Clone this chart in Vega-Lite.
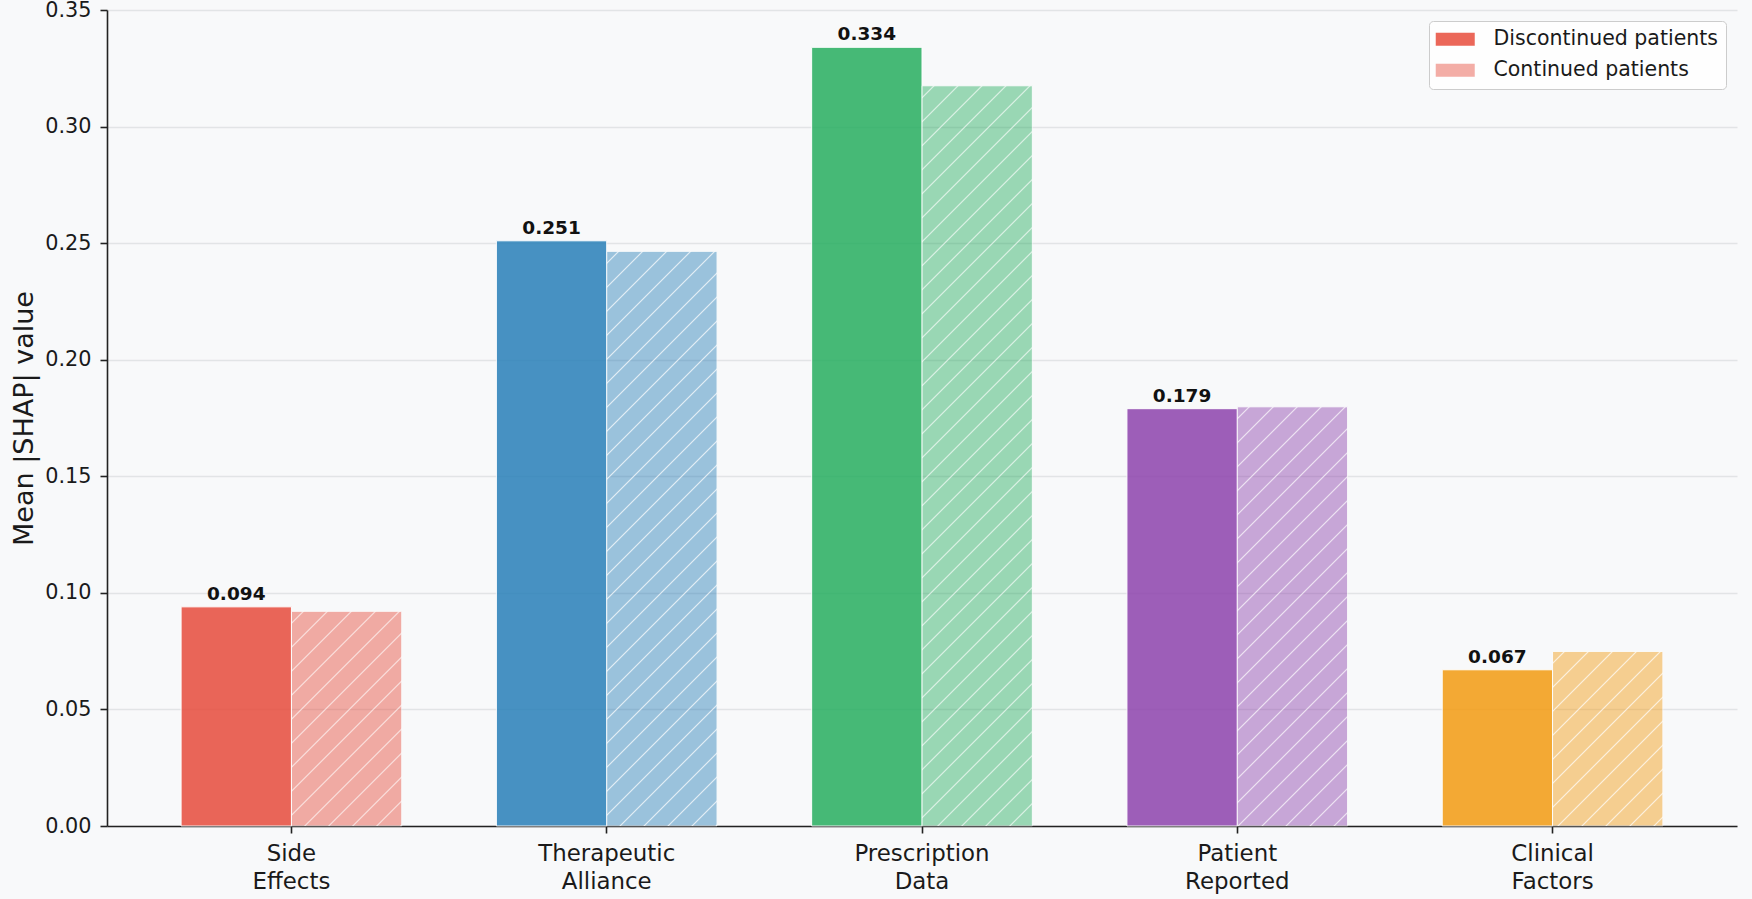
{
  "$schema": "https://vega.github.io/schema/vega-lite/v6.json",
  "width": 1630,
  "height": 816,
  "autosize": {"type": "none"},
  "padding": {"left": 107, "top": 10, "right": 15, "bottom": 73},
  "background": "#f8f9fa",
  "params": [
    {
      "name": "hatchStops",
      "value": [
        {"offset": 0.01215, "color": "rgba(255,255,255,0)"}, {"offset": 0.01389, "color": "rgba(255,255,255,0.7)"}, {"offset": 0.01563, "color": "rgba(255,255,255,0)"},
        {"offset": 0.03993, "color": "rgba(255,255,255,0)"}, {"offset": 0.04167, "color": "rgba(255,255,255,0.7)"}, {"offset": 0.04341, "color": "rgba(255,255,255,0)"},
        {"offset": 0.0677, "color": "rgba(255,255,255,0)"}, {"offset": 0.06944, "color": "rgba(255,255,255,0.7)"}, {"offset": 0.07118, "color": "rgba(255,255,255,0)"},
        {"offset": 0.09548, "color": "rgba(255,255,255,0)"}, {"offset": 0.09722, "color": "rgba(255,255,255,0.7)"}, {"offset": 0.09896, "color": "rgba(255,255,255,0)"},
        {"offset": 0.12326, "color": "rgba(255,255,255,0)"}, {"offset": 0.125, "color": "rgba(255,255,255,0.7)"}, {"offset": 0.12674, "color": "rgba(255,255,255,0)"},
        {"offset": 0.15104, "color": "rgba(255,255,255,0)"}, {"offset": 0.15278, "color": "rgba(255,255,255,0.7)"}, {"offset": 0.15452, "color": "rgba(255,255,255,0)"},
        {"offset": 0.17882, "color": "rgba(255,255,255,0)"}, {"offset": 0.18056, "color": "rgba(255,255,255,0.7)"}, {"offset": 0.1823, "color": "rgba(255,255,255,0)"},
        {"offset": 0.20659, "color": "rgba(255,255,255,0)"}, {"offset": 0.20833, "color": "rgba(255,255,255,0.7)"}, {"offset": 0.21007, "color": "rgba(255,255,255,0)"},
        {"offset": 0.23437, "color": "rgba(255,255,255,0)"}, {"offset": 0.23611, "color": "rgba(255,255,255,0.7)"}, {"offset": 0.23785, "color": "rgba(255,255,255,0)"},
        {"offset": 0.26215, "color": "rgba(255,255,255,0)"}, {"offset": 0.26389, "color": "rgba(255,255,255,0.7)"}, {"offset": 0.26563, "color": "rgba(255,255,255,0)"},
        {"offset": 0.28993, "color": "rgba(255,255,255,0)"}, {"offset": 0.29167, "color": "rgba(255,255,255,0.7)"}, {"offset": 0.29341, "color": "rgba(255,255,255,0)"},
        {"offset": 0.3177, "color": "rgba(255,255,255,0)"}, {"offset": 0.31944, "color": "rgba(255,255,255,0.7)"}, {"offset": 0.32118, "color": "rgba(255,255,255,0)"},
        {"offset": 0.34548, "color": "rgba(255,255,255,0)"}, {"offset": 0.34722, "color": "rgba(255,255,255,0.7)"}, {"offset": 0.34896, "color": "rgba(255,255,255,0)"},
        {"offset": 0.37326, "color": "rgba(255,255,255,0)"}, {"offset": 0.375, "color": "rgba(255,255,255,0.7)"}, {"offset": 0.37674, "color": "rgba(255,255,255,0)"},
        {"offset": 0.40104, "color": "rgba(255,255,255,0)"}, {"offset": 0.40278, "color": "rgba(255,255,255,0.7)"}, {"offset": 0.40452, "color": "rgba(255,255,255,0)"},
        {"offset": 0.42882, "color": "rgba(255,255,255,0)"}, {"offset": 0.43056, "color": "rgba(255,255,255,0.7)"}, {"offset": 0.4323, "color": "rgba(255,255,255,0)"},
        {"offset": 0.45659, "color": "rgba(255,255,255,0)"}, {"offset": 0.45833, "color": "rgba(255,255,255,0.7)"}, {"offset": 0.46007, "color": "rgba(255,255,255,0)"},
        {"offset": 0.48437, "color": "rgba(255,255,255,0)"}, {"offset": 0.48611, "color": "rgba(255,255,255,0.7)"}, {"offset": 0.48785, "color": "rgba(255,255,255,0)"},
        {"offset": 0.51215, "color": "rgba(255,255,255,0)"}, {"offset": 0.51389, "color": "rgba(255,255,255,0.7)"}, {"offset": 0.51563, "color": "rgba(255,255,255,0)"},
        {"offset": 0.53993, "color": "rgba(255,255,255,0)"}, {"offset": 0.54167, "color": "rgba(255,255,255,0.7)"}, {"offset": 0.54341, "color": "rgba(255,255,255,0)"},
        {"offset": 0.5677, "color": "rgba(255,255,255,0)"}, {"offset": 0.56944, "color": "rgba(255,255,255,0.7)"}, {"offset": 0.57118, "color": "rgba(255,255,255,0)"},
        {"offset": 0.59548, "color": "rgba(255,255,255,0)"}, {"offset": 0.59722, "color": "rgba(255,255,255,0.7)"}, {"offset": 0.59896, "color": "rgba(255,255,255,0)"},
        {"offset": 0.62326, "color": "rgba(255,255,255,0)"}, {"offset": 0.625, "color": "rgba(255,255,255,0.7)"}, {"offset": 0.62674, "color": "rgba(255,255,255,0)"},
        {"offset": 0.65104, "color": "rgba(255,255,255,0)"}, {"offset": 0.65278, "color": "rgba(255,255,255,0.7)"}, {"offset": 0.65452, "color": "rgba(255,255,255,0)"},
        {"offset": 0.67882, "color": "rgba(255,255,255,0)"}, {"offset": 0.68056, "color": "rgba(255,255,255,0.7)"}, {"offset": 0.6823, "color": "rgba(255,255,255,0)"},
        {"offset": 0.70659, "color": "rgba(255,255,255,0)"}, {"offset": 0.70833, "color": "rgba(255,255,255,0.7)"}, {"offset": 0.71007, "color": "rgba(255,255,255,0)"},
        {"offset": 0.73437, "color": "rgba(255,255,255,0)"}, {"offset": 0.73611, "color": "rgba(255,255,255,0.7)"}, {"offset": 0.73785, "color": "rgba(255,255,255,0)"},
        {"offset": 0.76215, "color": "rgba(255,255,255,0)"}, {"offset": 0.76389, "color": "rgba(255,255,255,0.7)"}, {"offset": 0.76563, "color": "rgba(255,255,255,0)"},
        {"offset": 0.78993, "color": "rgba(255,255,255,0)"}, {"offset": 0.79167, "color": "rgba(255,255,255,0.7)"}, {"offset": 0.79341, "color": "rgba(255,255,255,0)"},
        {"offset": 0.8177, "color": "rgba(255,255,255,0)"}, {"offset": 0.81944, "color": "rgba(255,255,255,0.7)"}, {"offset": 0.82118, "color": "rgba(255,255,255,0)"},
        {"offset": 0.84548, "color": "rgba(255,255,255,0)"}, {"offset": 0.84722, "color": "rgba(255,255,255,0.7)"}, {"offset": 0.84896, "color": "rgba(255,255,255,0)"},
        {"offset": 0.87326, "color": "rgba(255,255,255,0)"}, {"offset": 0.875, "color": "rgba(255,255,255,0.7)"}, {"offset": 0.87674, "color": "rgba(255,255,255,0)"},
        {"offset": 0.90104, "color": "rgba(255,255,255,0)"}, {"offset": 0.90278, "color": "rgba(255,255,255,0.7)"}, {"offset": 0.90452, "color": "rgba(255,255,255,0)"},
        {"offset": 0.92882, "color": "rgba(255,255,255,0)"}, {"offset": 0.93056, "color": "rgba(255,255,255,0.7)"}, {"offset": 0.9323, "color": "rgba(255,255,255,0)"},
        {"offset": 0.95659, "color": "rgba(255,255,255,0)"}, {"offset": 0.95833, "color": "rgba(255,255,255,0.7)"}, {"offset": 0.96007, "color": "rgba(255,255,255,0)"},
        {"offset": 0.98437, "color": "rgba(255,255,255,0)"}, {"offset": 0.98611, "color": "rgba(255,255,255,0.7)"}, {"offset": 0.98785, "color": "rgba(255,255,255,0)"}
      ]
    }
  ],
  "data": {
    "values": [
      {"feature": "Side Effects", "group": "Discontinued patients", "shap": 0.094},
      {"feature": "Side Effects", "group": "Continued patients", "shap": 0.0921},
      {"feature": "Therapeutic Alliance", "group": "Discontinued patients", "shap": 0.251},
      {"feature": "Therapeutic Alliance", "group": "Continued patients", "shap": 0.2465},
      {"feature": "Prescription Data", "group": "Discontinued patients", "shap": 0.334},
      {"feature": "Prescription Data", "group": "Continued patients", "shap": 0.3175},
      {"feature": "Patient Reported", "group": "Discontinued patients", "shap": 0.179},
      {"feature": "Patient Reported", "group": "Continued patients", "shap": 0.1798},
      {"feature": "Clinical Factors", "group": "Discontinued patients", "shap": 0.067},
      {"feature": "Clinical Factors", "group": "Continued patients", "shap": 0.0749}
    ]
  },
  "encoding": {
    "x": {
      "field": "feature",
      "type": "nominal",
      "sort": ["Side Effects", "Therapeutic Alliance", "Prescription Data", "Patient Reported", "Clinical Factors"],
      "scale": {"paddingInner": 0.3, "paddingOuter": 0.235},
      "axis": {
        "title": null,
        "labelAngle": 0,
        "labelExpr": "split(datum.label, ' ')",
        "labelFontSize": 22.9,
        "labelLineHeight": 28.3,
        "labelBaseline": "top",
        "labelPadding": 9.5,
        "grid": false
      }
    },
    "xOffset": {
      "field": "group",
      "type": "nominal",
      "scale": {"domain": ["Discontinued patients", "Continued patients"], "paddingInner": 0, "paddingOuter": 0}
    },
    "y": {
      "field": "shap",
      "type": "quantitative",
      "scale": {"domain": [0, 0.35], "nice": false},
      "axis": {
        "title": "Mean |SHAP| value",
        "values": [0, 0.05, 0.1, 0.15, 0.2, 0.25, 0.3, 0.35],
        "format": ".2f",
        "labelFontSize": 20.8,
        "labelPadding": 9,
        "grid": true,
        "titleFontSize": 27,
        "titleFontWeight": "normal",
        "titleX": -83,
        "titleY": 408,
        "titleAngle": 270,
        "titleAlign": "center",
        "titleBaseline": "middle"
      }
    }
  },
  "layer": [
    {
      "mark": {"type": "bar", "stroke": "#ffffff", "strokeWidth": 1},
      "encoding": {
        "color": {
          "field": "feature",
          "type": "nominal",
          "scale": {
            "domain": ["Side Effects", "Therapeutic Alliance", "Prescription Data", "Patient Reported", "Clinical Factors"],
            "range": ["#e74c3c", "#2980b9", "#27ae60", "#8e44ad", "#f39c12"]
          },
          "legend": null
        },
        "opacity": {
          "field": "group",
          "type": "nominal",
          "scale": {"domain": ["Discontinued patients", "Continued patients"], "range": [0.85, 0.45]},
          "legend": {
            "title": null,
            "orient": "none",
            "legendX": 1322,
            "legendY": 11,
            "symbolType": "M-1.77,-1H4.23V1H-1.77Z",
            "symbolSize": 169,
            "symbolFillColor": "#e74c3c",
            "symbolStrokeWidth": 0,
            "labelFontSize": 20.5,
            "labelLimit": 0,
            "labelOffset": 36,
            "rowPadding": 10,
            "padding": 8,
            "fillColor": "#fefefe",
            "strokeColor": "#cccccc",
            "cornerRadius": 4,
            "encode": {
              "symbols": {
                "update": {
                  "fill": {
                    "signal": "datum.value === 'Continued patients' ? {gradient: 'linear', x1: 0, y1: 0, x2: 1.2, y2: 0.4, stops: [{offset: 0, color: '#e74c3c'}, {offset: 0.2, color: '#e74c3c'}, {offset: 0.23, color: '#ffffff'}, {offset: 0.26, color: '#e74c3c'}, {offset: 0.66, color: '#e74c3c'}, {offset: 0.69, color: '#ffffff'}, {offset: 0.72, color: '#e74c3c'}, {offset: 1, color: '#e74c3c'}]} : '#e74c3c'"
                  }
                }
              }
            }
          }
        }
      }
    },
    {
      "transform": [{"filter": "datum.group === 'Continued patients'"}],
      "mark": {"type": "bar", "strokeWidth": 0},
      "encoding": {
        "fill": {
          "value": {
            "expr": "{gradient: 'linear', x1: 0, y1: 0, x2: 95342 / (12177 + pow(datum.shap * 2331.4, 2)), y2: 864 * datum.shap * 2331.4 / (12177 + pow(datum.shap * 2331.4, 2)), stops: hatchStops}"
          }
        }
      }
    },
    {
      "transform": [{"filter": "datum.group === 'Discontinued patients'"}],
      "mark": {"type": "text", "fontWeight": "bold", "fontSize": 18.5, "baseline": "alphabetic", "dy": -7, "color": "#111111"},
      "encoding": {
        "text": {"field": "shap", "type": "quantitative", "format": ".3f"}
      }
    }
  ],
  "config": {
    "font": "DejaVu Sans",
    "view": {"stroke": null},
    "axis": {
      "domainColor": "#222222",
      "domainWidth": 1.6,
      "tickColor": "#222222",
      "tickWidth": 1.6,
      "tickSize": 7,
      "labelColor": "#1a1a1a",
      "titleColor": "#1a1a1a",
      "labelFont": "DejaVu Sans",
      "titleFont": "DejaVu Sans",
      "gridColor": "#e2e4e6",
      "gridWidth": 1.5
    },
    "legend": {"labelFont": "DejaVu Sans", "labelColor": "#1a1a1a"}
  }
}
